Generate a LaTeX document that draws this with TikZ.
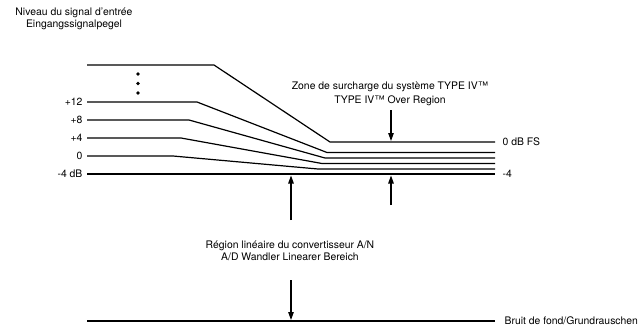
\documentclass[tikz,border=0pt]{standalone}
\usepackage{fontspec}
\setmainfont{TeX Gyre Heros}
\usetikzlibrary{arrows.meta, positioning}
\tikzset{
  every picture/.style={font=\fontsize{10.4}{12}\selectfont, line width=1.2pt},
  level/.style={draw=black, line join=miter},
  label/.style={inner sep=0pt, align=center},
  arrow/.style={-{Triangle[length=8pt, width=5.5pt]}, line width=1.1pt},
}
\begin{document}
\begin{tikzpicture}[x=1pt, y=-1pt]
  \useasboundingbox (0,0) rectangle (642,330);
  \node[label] (title) at (74,19) {Niveau du signal d'entrée\\Eingangssignalpegel};
  % input levels: left y / kink left / kink right / output y / name
  \foreach \ya/\xa/\xb/\yb/\n in {65/214/330/142/top, 102/197/327/152.5/p12, 120/189/325/158/p8, 138/181/322/163.5/p4, 156/173/318/169/z}
    \draw[level] (87,\ya) coordinate (\n-a) -- (\xa,\ya) -- (\xb,\yb) -- (495,\yb) coordinate (\n-b);
  \draw[level] (87,174) coordinate (m4-a) -- (495,174) coordinate (m4-b);
  \draw[level] (87,321) coordinate (noise-a) -- (495,321) coordinate (noise-b);
  \foreach \y in {74,83.5,93} \fill (138,\y) circle (1.9pt);
  % left labels
  \node[label, anchor=east] (lp12) at (83,102) {+12};
  \node[label, anchor=east] (lp8) at (83,120) {+8};
  \node[label, anchor=east] (lp4) at (83,138) {+4};
  \node[label, anchor=east] (lz) at (83,156) {0};
  \node[label, anchor=east] (lm4) at (83,174) {-4 dB};
  % right labels
  \node[label, anchor=west, right=7pt of top-b] (fs) {0 dB FS};
  \node[label, anchor=west, right=7pt of m4-b] (rm4) {-4};
  \node[label, anchor=west, right=9pt of noise-b] (noise) {Bruit de fond/Grundrauschen};
  % regions
  \node[label] (over) at (390,94) {Zone de surcharge du système TYPE IV™\\[2pt]TYPE IV™ Over Region};
  \node[label] (lin) at (290,251) {Région linéaire du convertisseur A/N\\A/D Wandler Linearer Bereich};
  \coordinate (overtip) at (391,141);
  \coordinate (lintip) at (291,175.5);
  \coordinate (lowtip) at (391,175.5);
  \coordinate (noisetip) at (291,320);
  \draw[arrow] (391,110) -- (overtip);
  \draw[arrow] (291,220) -- (lintip);
  \draw[arrow] (391,205) -- (lowtip);
  \draw[arrow] (291,280) -- (noisetip);
\end{tikzpicture}
\end{document}
